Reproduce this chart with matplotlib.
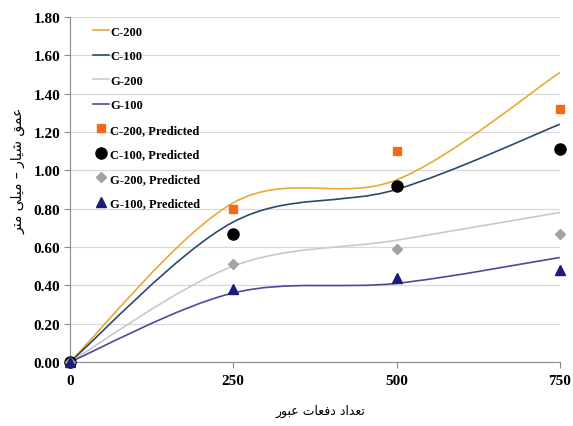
import numpy as np
import matplotlib
matplotlib.use("Agg")
import matplotlib.pyplot as plt
from matplotlib.path import Path
from matplotlib.patches import PathPatch
from matplotlib.lines import Line2D

# passes
passes = [0, 250, 500, 750]

# measured groove depth (smoothed lines)
c200 = [0.00, 0.83, 0.95, 1.51]
c100 = [0.00, 0.73, 0.90, 1.24]
g200 = [0.00, 0.50, 0.635, 0.78]
g100 = [0.00, 0.36, 0.41, 0.545]

# predicted values (markers)
c200_pred = [0.00, 0.80, 1.10, 1.32]
c100_pred = [0.00, 0.67, 0.92, 1.11]
g200_pred = [0.00, 0.51, 0.59, 0.67]
g100_pred = [0.00, 0.38, 0.44, 0.48]

line_names = ["C-200", "C-100", "G-200", "G-100"]
pred_names = ["C-200, Predicted", "C-100, Predicted", "G-200, Predicted", "G-100, Predicted"]

# Persian labels, presentation forms in logical order (reversed below for display)
xlabel_words = ["\uFE97\uFECC\uFEAA\uFE8D\uFEA9",      # تعداد
                "\uFEA9\uFED3\uFECC\uFE8E\uFE95",      # دفعات
                "\uFECB\uFE92\uFEEE\uFEAD"]            # عبور
ylabel_words = ["\uFECB\uFEE4\uFED6",                  # عمق
                "\uFEB7\uFEF4\uFE8E\uFEAD",            # شیار
                "\u2013",
                "\uFEE3\uFEF4\uFEE0\uFEF0",            # میلی
                "\uFEE3\uFE98\uFEAE"]                  # متر


def rtl(words):
    return " ".join(w[::-1] for w in reversed(words))


def smooth_path(x, y):
    # Excel-style smoothed line: cubic bezier segments with catmull-rom tangents
    pts = list(zip(x, y))
    verts = [pts[0]]
    codes = [Path.MOVETO]
    n = len(pts)
    for i in range(n - 1):
        p0 = np.array(pts[max(i - 1, 0)])
        p1 = np.array(pts[i])
        p2 = np.array(pts[i + 1])
        p3 = np.array(pts[min(i + 2, n - 1)])
        c1 = p1 + (p2 - p0) / 6
        c2 = p2 - (p3 - p1) / 6
        verts += [tuple(c1), tuple(c2), tuple(p2)]
        codes += [Path.CURVE4] * 3
    return Path(verts, codes)


def main():
    fig = plt.figure(figsize=(5.73, 4.27), dpi=100)
    ax = fig.add_axes([0.122, 0.150, 0.855, 0.808])

    serif = {"family": "Liberation Serif", "weight": "bold", "size": 9}

    line_colors = ["#EBA836", "#2B4A6E", "#C9C9C9", "#4C4A99"]
    handles = []
    for vals, col, name in zip([c200, c100, g200, g100], line_colors, line_names):
        patch = PathPatch(smooth_path(passes, vals), facecolor="none",
                          edgecolor=col, lw=1.2, zorder=3)
        ax.add_patch(patch)
        handles.append(Line2D([], [], color=col, lw=1.2, label=name))

    marker_styles = [("s", "#F26B1D", 5.5), ("o", "black", 8),
                     ("D", "#A3A3A3", 5.5), ("^", "#1C1C7A", 7.5)]
    for vals, (m, col, ms), name in zip([c200_pred, c100_pred, g200_pred, g100_pred],
                                        marker_styles, pred_names):
        h, = ax.plot(passes, vals, linestyle="none", marker=m, color=col,
                     markersize=ms, label=name, zorder=4, clip_on=False)
        handles.append(h)

    ax.set_xlim(0, 750)
    ax.set_ylim(0, 1.8)
    ax.set_xticks(passes)
    ax.set_yticks(np.arange(0, 1.81, 0.2))
    ax.set_yticklabels([f"{v:.2f}" for v in np.arange(0, 1.81, 0.2)])
    for lab in ax.get_xticklabels() + ax.get_yticklabels():
        lab.set_fontfamily("Liberation Serif")
        lab.set_fontweight("bold")
        lab.set_fontsize(11)

    ax.grid(axis="y", color="#D9D9D9", lw=0.9)
    ax.set_axisbelow(True)
    for s in ["top", "right"]:
        ax.spines[s].set_visible(False)
    for s in ["left", "bottom"]:
        ax.spines[s].set_color("#8C8C8C")
    ax.tick_params(axis="y", direction="out", length=4, color="#8C8C8C", pad=3)
    ax.tick_params(axis="x", direction="out", length=4, color="#8C8C8C", pad=5)

    ax.set_xlabel(rtl(xlabel_words), family="DejaVu Sans", fontsize=9)
    ax.xaxis.set_label_coords(0.512, -0.122)
    ax.set_ylabel(rtl(ylabel_words), family="DejaVu Sans", fontsize=10)
    ax.yaxis.set_label_coords(-0.09, 0.557)

    ax.legend(handles=handles, loc="upper left", bbox_to_anchor=(0.03, 1.0),
              frameon=False, prop=serif, handlelength=1.25, handletextpad=0.1,
              labelspacing=1.0, borderaxespad=0.3)

    fig.savefig("out.png", dpi=100)


if __name__ == "__main__":
    main()
